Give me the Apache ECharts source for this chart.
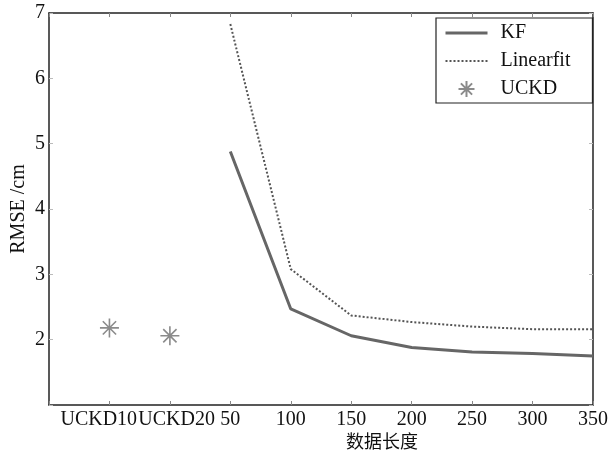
<!DOCTYPE html>
<html>
<head>
<meta charset="utf-8">
<script src="https://cdn.jsdelivr.net/npm/echarts@6/dist/echarts.min.js"></script>
<style>html,body{margin:0;padding:0;background:#fff;}#c{width:612px;height:455px;}</style>
</head>
<body>
<div id="c"></div>
<script>
const categories = ['UCKD10', 'UCKD20', '50', '100', '150', '200', '250', '300', '350'];
const lengthCats = ['50', '100', '150', '200', '250', '300', '350'];
const kfValues = [4.88, 2.47, 2.06, 1.88, 1.81, 1.79, 1.75];
const linearfitValues = [6.83, 3.08, 2.37, 2.27, 2.20, 2.16, 2.16];
const uckdCats = ['UCKD10', 'UCKD20'];
const uckdValues = [2.18, 2.06];
const yTicks = [1, 2, 3, 4, 5, 6, 7];

const serif = '"Liberation Serif", "Times New Roman", serif';
const axisCats = [''].concat(categories);
const chart = echarts.init(document.getElementById('c'));
const star = 'path://M10,0L10,20M0,10L20,10M3,3L17,17M3,17L17,3';

chart.setOption({
  animation: false,
  backgroundColor: '#fff',
  grid: {left: 49, right: 19, top: 13, bottom: 50, containLabel: false, outerBoundsMode: 'none'},
  legend: {
    left: 436, top: 18, orient: 'vertical',
    backgroundColor: '#fff',
    borderColor: '#222', borderWidth: 1.2,
    padding: [5, 22, 4, 8],
    itemWidth: 42, itemHeight: 16, itemGap: 8,
    textStyle: {fontFamily: serif, fontSize: 20, color: '#111', lineHeight: 20, padding: [0, 0, 0, 8]},
    data: [
      {name: 'KF', itemStyle: {opacity: 0}, lineStyle: {width: 3, color: '#666'}},
      {name: 'Linearfit', itemStyle: {opacity: 0}, lineStyle: {width: 2, color: '#555', type: [2, 2]}},
      {name: 'UCKD'}
    ]
  },
  xAxis: [{
    type: 'category', data: axisCats, boundaryGap: false,
    name: '数据长度', nameLocation: 'middle', nameGap: 27, nameMoveOverlap: false,
    nameTextStyle: {fontFamily: '"Noto Sans CJK SC", sans-serif', fontSize: 18, color: '#111', padding: [0, 0, 0, 122]},
    axisLine: {lineStyle: {color: '#222', width: 1.5}},
    axisTick: {inside: true, length: 4, lineStyle: {color: '#888'}, interval: 0},
    axisLabel: {
      interval: 0, margin: 5, fontFamily: serif, fontSize: 20, color: '#111',
      hideOverlap: false,
      formatter: v => v === 'UCKD10' ? '{a|' + v + '}' : (v === 'UCKD20' ? '{b|' + v + '}' : v),
      rich: {
        a: {fontFamily: serif, fontSize: 20, color: '#111', width: 98, align: 'left'},
        b: {fontFamily: serif, fontSize: 20, color: '#111', width: 90, align: 'right'}
      }
    },
    splitLine: {show: false}
  }, {
    type: 'category', data: axisCats, boundaryGap: false, position: 'top',
    axisLine: {lineStyle: {color: '#222', width: 1.5}},
    axisTick: {inside: true, length: 4, lineStyle: {color: '#888'}, interval: 0},
    axisLabel: {show: false}, splitLine: {show: false}
  }],
  yAxis: [{
    type: 'value', min: yTicks[0], max: yTicks[yTicks.length - 1], interval: 1,
    name: 'RMSE /cm', nameLocation: 'middle', nameGap: 20, nameMoveOverlap: false,
    nameTextStyle: {fontFamily: serif, fontSize: 20, color: '#111'},
    axisLine: {show: true, lineStyle: {color: '#222', width: 1.5}},
    axisTick: {show: true, inside: true, length: 4, lineStyle: {color: '#bbb'}},
    axisLabel: {margin: 4, fontFamily: serif, fontSize: 20, color: '#111',
      formatter: v => v === yTicks[0] ? '' : String(v)},
    splitLine: {show: false}
  }, {
    type: 'value', min: yTicks[0], max: yTicks[yTicks.length - 1], interval: 1, position: 'right',
    axisLine: {show: true, lineStyle: {color: '#222', width: 1.5}},
    axisTick: {show: true, inside: true, length: 4, lineStyle: {color: '#bbb'}},
    axisLabel: {show: false}, splitLine: {show: false}
  }],
  series: [{
    name: 'KF', type: 'line', symbol: 'none',
    data: lengthCats.map((c, i) => [c, kfValues[i]]),
    lineStyle: {color: '#666', width: 3},
    itemStyle: {color: '#666'}
  }, {
    name: 'Linearfit', type: 'line', symbol: 'none',
    data: lengthCats.map((c, i) => [c, linearfitValues[i]]),
    lineStyle: {color: '#555', width: 2, type: [2, 2]},
    itemStyle: {color: '#555'}
  }, {
    name: 'UCKD', type: 'scatter', symbol: star, symbolSize: 19,
    data: uckdCats.map((c, i) => [c, uckdValues[i]]),
    itemStyle: {color: 'rgba(0,0,0,0)', borderColor: '#6e6e6e', borderWidth: 1.6}
  }]
});
</script>
</body>
</html>
